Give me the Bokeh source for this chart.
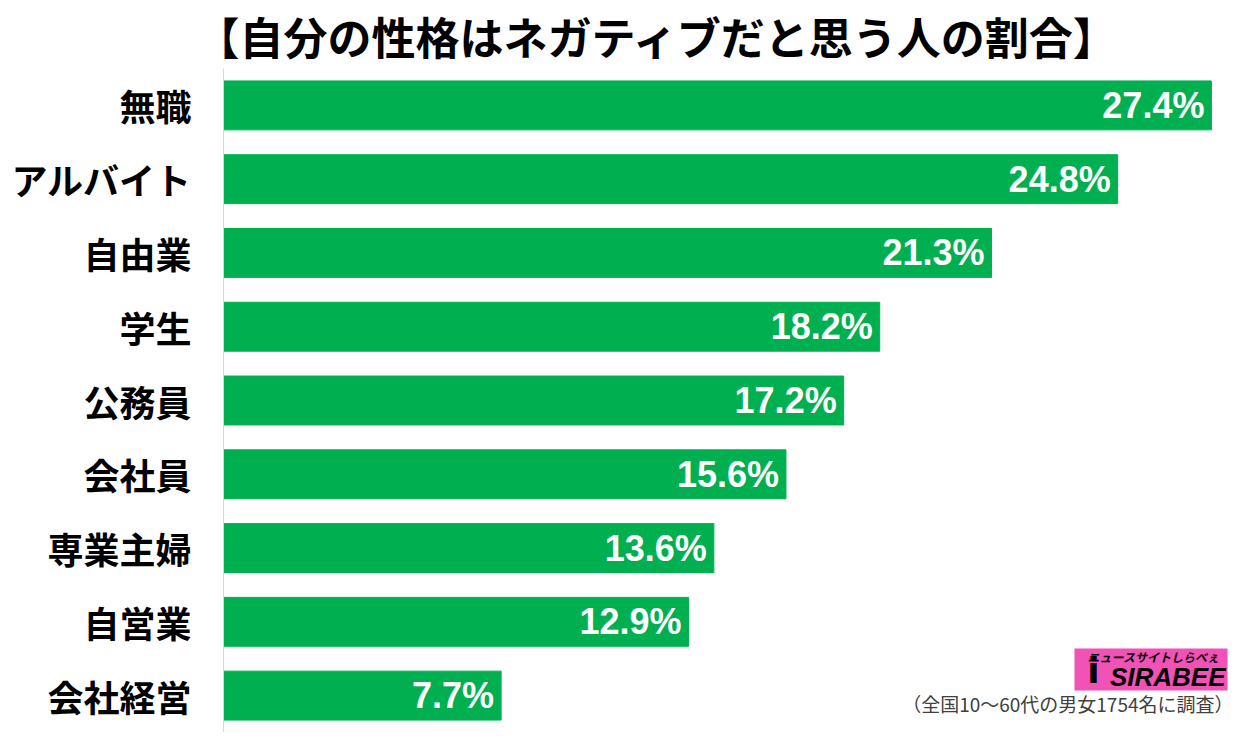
from bokeh.plotting import figure
from bokeh.models import ColumnDataSource, FactorRange, Range1d, Label, BoxAnnotation, Title
from bokeh.core.properties import value
from bokeh.embed import file_html
from bokeh.resources import INLINE

title_text = "【自分の性格はネガティブだと思う人の割合】"
categories = ["無職", "アルバイト", "自由業", "学生", "公務員", "会社員", "専業主婦", "自営業", "会社経営"]
values = [27.4, 24.8, 21.3, 18.2, 17.2, 15.6, 13.6, 12.9, 7.7]
labels = [f"{v:.1f}%" for v in values]
footnote = "（全国10～60代の男女1754名に調査）"

W, H = 1234, 732
TOP, BOTTOM, LEFT, RIGHT = 65, 0, 223, 0
FH = H - TOP - BOTTOM

src = ColumnDataSource(dict(cat=categories, val=values, lab=labels))

p = figure(width=W, height=H, output_backend="svg", toolbar_location=None,
           y_range=FactorRange(factors=list(reversed(categories))),
           x_range=Range1d(0, 28.04), x_axis_location=None,
           min_border_top=TOP, min_border_bottom=BOTTOM,
           min_border_left=LEFT, min_border_right=RIGHT)
p.title = Title(text=title_text, align="left", offset=-28, standoff=2,
                text_font="Noto Sans CJK JP", text_font_style="bold",
                text_font_size="44px", text_color="black")
p.outline_line_color = None
p.background_fill_color = "white"
p.border_fill_color = "white"
p.grid.visible = False

p.hbar(y="cat", right="val", left=0, height=0.663, color="#00B050", source=src)
p.text(x="val", y="cat", text="lab", source=src, x_offset=-7,
       text_align="right", text_baseline="middle",
       text_font=value("Liberation Sans"), text_font_style="bold",
       text_font_size="36px", text_color="white")

ax = p.yaxis[0]
ax.major_tick_line_color = None
ax.minor_tick_line_color = None
ax.axis_line_color = "#d9d9d9"
ax.major_label_standoff = 26
ax.major_label_text_font = "Noto Sans CJK JP"
ax.major_label_text_font_style = "bold"
ax.major_label_text_font_size = "36px"
ax.major_label_text_color = "black"

p.add_layout(Label(x=1010, y=29, x_units="screen", y_units="screen",
                   text=footnote, text_align="right", text_baseline="middle",
                   text_font="Noto Sans CJK JP", text_font_size="19px",
                   text_color="#404040"))

# logo
p.add_layout(BoxAnnotation(left=851, right=1004, bottom=42, top=84,
                           left_units="screen", right_units="screen",
                           bottom_units="screen", top_units="screen",
                           fill_color="#f052b5", fill_alpha=1.0, line_color=None))
p.add_layout(Label(x=1002, y=56, x_units="screen", y_units="screen",
                   text="SIRABEE", text_align="right", text_baseline="middle",
                   text_font="Liberation Sans", text_font_style="bold italic",
                   text_font_size="26px", text_color="black"))
p.add_layout(Label(x=996, y=76, x_units="screen", y_units="screen",
                   text="ニュースサイトしらべぇ", text_align="right", text_baseline="middle",
                   text_font="Noto Sans CJK JP", text_font_style="bold italic",
                   text_font_size="12px", text_color="black"))
p.add_layout(Label(x=870, y=62, x_units="screen", y_units="screen",
                   text="i", text_align="center", text_baseline="middle",
                   text_font="DejaVu Sans", text_font_style="bold",
                   text_font_size="36px", text_color="black"))

open("out.html", "w").write(file_html(p, INLINE))
